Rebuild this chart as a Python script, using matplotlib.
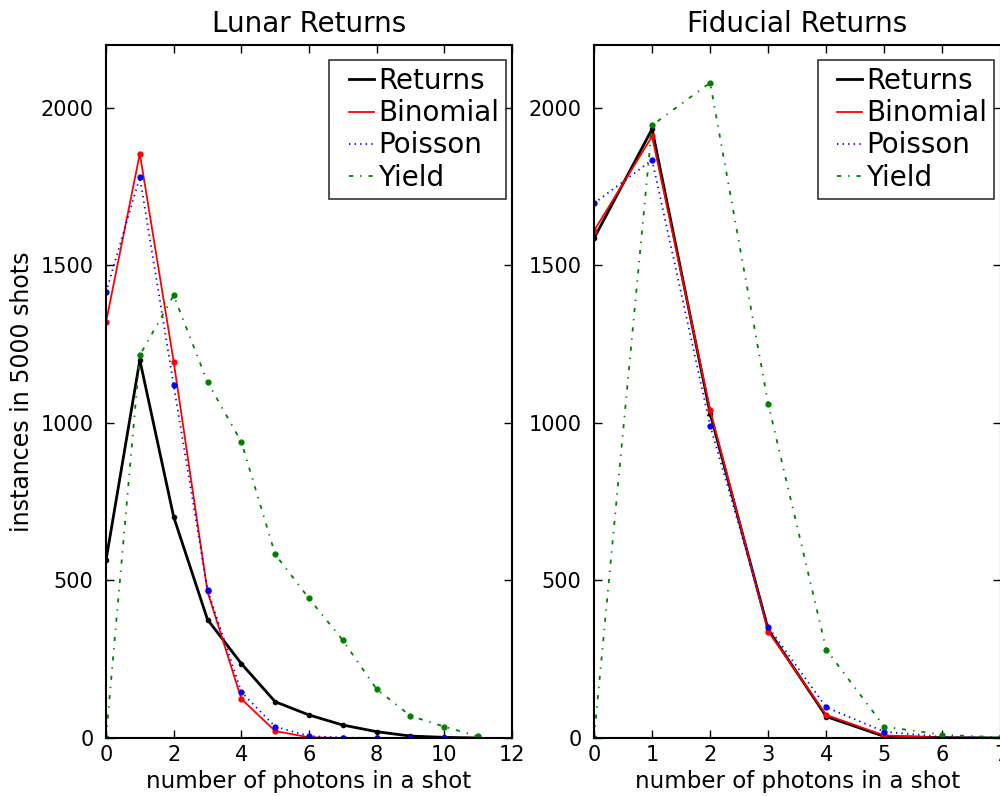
import matplotlib.pyplot as plt
from matplotlib.legend_handler import HandlerLine2D
from matplotlib.lines import Line2D
import numpy as np

# photon counts per shot
lunar_n = np.arange(12)
fid_n = np.arange(8)

# Lunar returns (instances in 5000 shots)
lunar_returns = [564, 1200, 702, 376, 236, 115, 73, 41, 20, 6, 2, 0]
lunar_binomial = [1320, 1855, 1195, 465, 124, 22, 2, 0, 0, 0, 0, 0]
lunar_poisson = [1415, 1780, 1120, 471, 146, 36, 6, 1, 0, 0, 0, 0]
lunar_yield = [0, 1215, 1405, 1130, 940, 583, 443, 310, 155, 70, 36, 5]

# Fiducial returns
fid_returns = [1586, 1933, 1030, 344, 68, 5, 1, 0]
fid_binomial = [1610, 1910, 1041, 338, 73, 8, 1, 0]
fid_poisson = [1697, 1835, 991, 353, 97, 20, 3, 0]
fid_yield = [0, 1945, 2080, 1060, 280, 36, 10, 2]

plt.rcParams['font.family'] = 'DejaVu Sans'
plt.rcParams['xtick.direction'] = 'in'
plt.rcParams['ytick.direction'] = 'in'
plt.rcParams['xtick.major.size'] = 6
plt.rcParams['ytick.major.size'] = 6
plt.rcParams['lines.scale_dashes'] = False


# legend line with some room on its left, like old matplotlib legends
class PaddedLine(HandlerLine2D):
    def get_xdata(self, legend, xdescent, ydescent, width, height, fontsize):
        x0 = -xdescent + 0.45 * fontsize
        return np.array([x0, -xdescent + width]), np.array([x0])


fig = plt.figure(figsize=(10, 7.96), dpi=100)
ax1 = fig.add_axes([0.106, 0.0729, 0.406, 0.8706])
ax2 = fig.add_axes([0.594, 0.0729, 0.4065, 0.8706])


def draw(ax, n, ret, binom, pois, yld, xticks, title):
    ax.plot(n, ret, 'k-', lw=2, label='Returns')
    ax.plot(n, ret, 'k.', ms=6)
    ax.plot(n, binom, 'r-', lw=1.3, label='Binomial')
    ax.plot(n, binom, 'r.', ms=7)
    ax.plot(n, pois, 'b', ls=(0, (1, 3)), lw=1.3, label='Poisson')
    ax.plot(n, pois, 'b.', ms=7)
    ax.plot(n, yld, 'g', ls=(0, (3, 5, 1, 5)), lw=1.3, label='Yield')
    ax.plot(n, yld, 'g.', ms=7)
    ax.set_xlim(xticks[0], xticks[-1])
    ax.set_xticks(xticks)
    ax.set_ylim(0, 2200)
    ax.set_yticks([0, 500, 1000, 1500, 2000])
    ax.set_title(title, fontsize=20, pad=9)
    ax.set_xlabel('number of photons in a shot', fontsize=16.5, labelpad=4)
    ax.tick_params(labelsize=15, top=True, right=True, width=1)
    ax.tick_params(axis='y', pad=9)
    ax.tick_params(axis='x', pad=5)
    for s in ax.spines.values():
        s.set_linewidth(1.5)
    leg = ax.legend(loc='upper right', bbox_to_anchor=(0.985, 0.978), fontsize=20,
                    fancybox=False, handlelength=1.35, handletextpad=0.15,
                    borderpad=0.25, labelspacing=0.15, borderaxespad=0.0,
                    handler_map={Line2D: PaddedLine()})
    leg.get_frame().set_edgecolor('black')
    leg.get_frame().set_linewidth(1.2)


draw(ax1, lunar_n, lunar_returns, lunar_binomial, lunar_poisson, lunar_yield,
     [0, 2, 4, 6, 8, 10, 12], 'Lunar Returns')
draw(ax2, fid_n, fid_returns, fid_binomial, fid_poisson, fid_yield,
     [0, 1, 2, 3, 4, 5, 6, 7], 'Fiducial Returns')
ax1.set_ylabel('instances in 5000 shots', fontsize=17, labelpad=5)

fig.savefig('out.png', dpi=100, facecolor='white')
